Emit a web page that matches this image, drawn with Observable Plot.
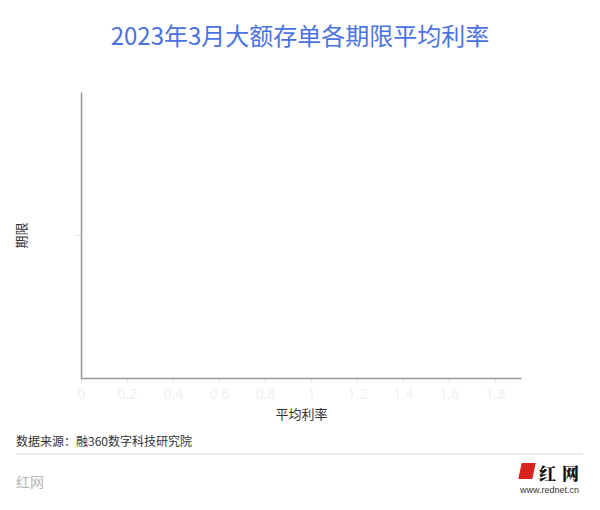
<!DOCTYPE html>
<html>
<head>
<meta charset="utf-8">
<script src="https://cdn.jsdelivr.net/npm/d3@7"></script>
<script src="https://cdn.jsdelivr.net/npm/@observablehq/plot@0.6"></script>
<style>
  html, body { margin: 0; padding: 0; background: #fff; }
  body { width: 600px; height: 510px; position: relative; overflow: hidden;
         font-family: "Noto Sans CJK SC", "Noto Sans", sans-serif; }
  .abs { position: absolute; white-space: nowrap; }
  #title { left: 0; width: 600px; top: 20px; text-align: center; font-size: 24px; line-height: 30px; color: #4a72e2; }
  #chart { left: 0; top: 60px; }
  #source { left: 16px; top: 433px; font-size: 12px; line-height: 16px; color: #333; }
  #sep { left: 16px; top: 453px; width: 567px; height: 2px; background: #ececec; }
  #brand { left: 16px; top: 472px; font-size: 14px; line-height: 18px; color: #b5b5b5; }
  #logo-mark { left: 520px; top: 463px; width: 14px; height: 16px; background: #d8231f; transform: skewX(-12deg); }
  #logo-text { left: 539px; top: 463px; font-size: 17px; line-height: 20px; font-family: "Noto Serif CJK SC", "Noto Sans CJK SC", serif; font-weight: 900; color: #111; letter-spacing: 6px; }
  #logo-url { left: 520px; top: 485px; font-size: 9px; line-height: 11px; font-family: "Liberation Sans", Arial, sans-serif; color: #333; }
</style>
</head>
<body>
<div id="title" class="abs">2023年3月大额存单各期限平均利率</div>
<div id="chart" class="abs"></div>
<div id="source" class="abs">数据来源：融360数字科技研究院</div>
<div id="sep" class="abs"></div>
<div id="brand" class="abs">红网</div>
<div id="logo-mark" class="abs"></div>
<div id="logo-text" class="abs">红网</div>
<div id="logo-url" class="abs">www.rednet.cn</div>
<script>
// Data as shown in the reference: the chart is drawn with no visible bars.
const terms = [""];          // category labels on the y axis (blank in the reference)
const rates = [0];           // average rates (no visible bar in the reference)
const xTicks = [0, 0.2, 0.4, 0.6, 0.8, 1, 1.2, 1.4, 1.6, 1.8];
const xMax = 1.913;

const data = terms.map((t, i) => ({term: t, rate: rates[i]}));

const W = 600, H = 372, mT = 32, mB = 54, mL = 81, mR = 79;
const pw = W - mL - mR, ph = H - mT - mB;

const chart = Plot.plot({
  width: W,
  height: H,
  marginTop: mT,
  marginBottom: mB,
  marginLeft: mL,
  marginRight: mR,
  style: {fontFamily: "'Noto Sans', 'Noto Sans CJK SC', sans-serif", background: "transparent"},
  x: {type: "linear", domain: [0, xMax]},
  y: {type: "band", domain: terms},
  marks: [
    Plot.barX(data, {x: "rate", y: "term", fill: "#4a72e2"}),
    Plot.axisX({
      ticks: xTicks,
      tickFormat: d => String(d),
      tickSize: 5,
      stroke: "#e2e2e2",
      fill: "#efefef",
      fontSize: 14,
      tickPadding: 6,
      label: null
    }),
    Plot.axisY({
      tickSize: 5,
      stroke: "#e6e6e6",
      tickFormat: d => d,
      label: null
    }),
    Plot.text(["平均利率"], {
      frameAnchor: "bottom",
      dy: 36,
      text: d => d,
      fontSize: 13,
      fill: "#333",
      lineAnchor: "middle",
      textAnchor: "middle"
    }),
    Plot.text(["期限"], {
      frameAnchor: "left",
      dx: -60,
      rotate: -90,
      text: d => d,
      fontSize: 13,
      fill: "#333",
      lineAnchor: "middle",
      textAnchor: "middle"
    }),
    // bottom and left axis lines
    Plot.frame({stroke: "#999", strokeWidth: 1.5, strokeDasharray: `0 ${pw + ph} ${pw + ph}`})
  ]
});
document.getElementById("chart").appendChild(chart);
</script>
</body>
</html>
